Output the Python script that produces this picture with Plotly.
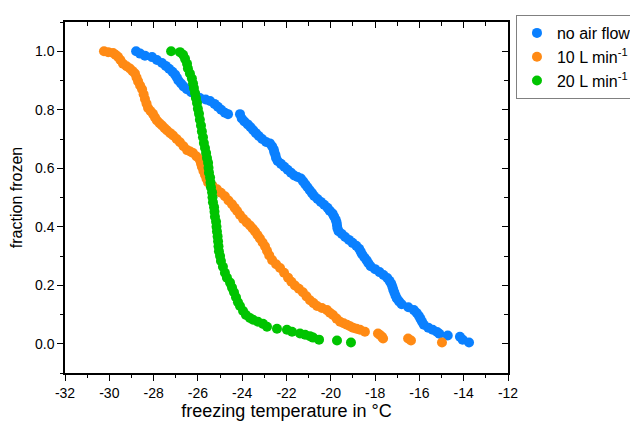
import plotly.graph_objects as go

# ---------------- data ----------------
noair_T = [-28.79, -28.61, -28.39, -28.07, -27.85, -27.62, -27.45, -27.30, -27.15, -27.03,
           -26.95, -26.88, -26.76, -26.65, -26.50, -26.30, -26.10, -25.91, -25.65, -25.45,
           -25.25, -25.10, -24.95, -24.78, -24.64, -24.10, -24.02, -23.90, -23.75, -23.62,
           -23.50, -23.38, -23.25, -23.10, -22.92, -22.75, -22.65, -22.58, -22.55, -22.50,
           -22.47, -22.40, -22.25, -22.10, -21.95, -21.80, -21.65, -21.50, -21.35, -21.25,
           -21.15, -21.05, -20.95, -20.85, -20.75, -20.60, -20.45, -20.30, -20.15, -20.05,
           -19.92, -19.85, -19.78, -19.74, -19.72, -19.70, -19.65, -19.50, -19.35, -19.18,
           -19.02, -18.85, -18.72, -18.65, -18.58, -18.48, -18.38, -18.30, -18.20, -18.00,
           -17.80, -17.62, -17.45, -17.35, -17.27, -17.22, -17.18, -17.13, -17.08, -17.02,
           -16.92, -16.80, -16.50, -16.25, -16.12, -16.02, -15.95, -15.88, -15.80, -15.60,
           -15.40, -15.20, -15.10, -14.72, -14.17, -14.05, -13.76]
noair_F = [1.000, 0.992, 0.985, 0.980, 0.970, 0.960, 0.950, 0.940, 0.930, 0.920,
           0.910, 0.900, 0.890, 0.880, 0.870, 0.860, 0.850, 0.840, 0.835, 0.830,
           0.820, 0.810, 0.800, 0.790, 0.785, 0.785, 0.770, 0.760, 0.750, 0.740,
           0.730, 0.720, 0.710, 0.700, 0.690, 0.685, 0.675, 0.665, 0.655, 0.645,
           0.635, 0.625, 0.615, 0.605, 0.595, 0.585, 0.575, 0.570, 0.565, 0.555,
           0.545, 0.535, 0.525, 0.515, 0.505, 0.495, 0.485, 0.475, 0.465, 0.455,
           0.445, 0.435, 0.425, 0.415, 0.405, 0.395, 0.385, 0.375, 0.365, 0.355,
           0.345, 0.335, 0.325, 0.315, 0.305, 0.295, 0.285, 0.275, 0.265, 0.255,
           0.245, 0.235, 0.225, 0.215, 0.205, 0.195, 0.185, 0.175, 0.165, 0.155,
           0.145, 0.135, 0.125, 0.115, 0.105, 0.095, 0.085, 0.075, 0.065, 0.055,
           0.048, 0.040, 0.034, 0.028, 0.024, 0.014, 0.004]

flow10_T = [-30.24, -30.05, -29.83, -29.72, -29.61, -29.50, -29.38, -29.22, -29.07, -28.95,
            -28.84, -28.77, -28.70, -28.61, -28.52, -28.45, -28.39, -28.32, -28.25, -28.14,
            -28.03, -27.94, -27.85, -27.73, -27.62, -27.50, -27.39, -27.25, -27.12, -26.96,
            -26.81, -26.65, -26.49, -26.35, -26.22, -26.06, -25.91, -25.86, -25.82, -25.75,
            -25.68, -25.61, -25.54, -25.34, -25.14, -24.96, -24.78, -24.62, -24.46, -24.34,
            -24.23, -24.10, -23.96, -23.80, -23.65, -23.53, -23.42, -23.31, -23.20, -23.08,
            -22.97, -22.88, -22.78, -22.65, -22.47, -22.29, -22.11, -21.93, -21.78, -21.62,
            -21.44, -21.26, -21.10, -20.94, -20.78, -20.62, -20.40, -20.17, -20.04, -19.90,
            -19.74, -19.58, -19.42, -19.27, -19.13, -19.00, -18.84, -18.68, -18.46, -17.87,
            -17.78, -17.69, -17.64, -16.51, -16.38, -14.98]
flow10_F = [1.000, 0.997, 0.994, 0.988, 0.981, 0.970, 0.957, 0.949, 0.941, 0.932,
            0.924, 0.910, 0.897, 0.883, 0.870, 0.853, 0.837, 0.821, 0.806, 0.796,
            0.786, 0.774, 0.763, 0.754, 0.746, 0.737, 0.729, 0.720, 0.712, 0.700,
            0.689, 0.675, 0.662, 0.657, 0.652, 0.640, 0.628, 0.616, 0.605, 0.591,
            0.578, 0.564, 0.551, 0.540, 0.528, 0.516, 0.504, 0.490, 0.477, 0.465,
            0.454, 0.440, 0.427, 0.415, 0.404, 0.394, 0.384, 0.372, 0.360, 0.346,
            0.333, 0.318, 0.302, 0.286, 0.272, 0.259, 0.243, 0.226, 0.212, 0.199,
            0.188, 0.176, 0.162, 0.149, 0.139, 0.129, 0.122, 0.115, 0.106, 0.098,
            0.086, 0.075, 0.070, 0.065, 0.060, 0.055, 0.051, 0.048, 0.041, 0.035,
            0.030, 0.024, 0.018, 0.018, 0.011, 0.004]

flow20_T = [-27.21, -26.81, -26.67, -26.58, -26.49, -26.45, -26.36, -26.27, -26.22, -26.18,
            -26.13, -26.09, -26.04, -26.00, -25.95, -25.91, -25.86, -25.82, -25.77, -25.73,
            -25.68, -25.63, -25.59, -25.54, -25.52, -25.50, -25.45, -25.43, -25.41, -25.36,
            -25.34, -25.32, -25.27, -25.25, -25.23, -25.18, -25.16, -25.14, -25.11, -25.09,
            -25.07, -25.05, -25.00, -24.96, -24.87, -24.78, -24.69, -24.55, -24.46, -24.37,
            -24.28, -24.19, -24.10, -23.96, -23.83, -23.65, -23.51, -23.29, -23.06, -22.88,
            -22.43, -21.98, -21.75, -21.39, -21.16, -20.94, -20.80, -20.53, -19.72, -19.09]
flow20_F = [1.000, 0.997, 0.988, 0.974, 0.957, 0.941, 0.924, 0.907, 0.890, 0.874,
            0.857, 0.840, 0.823, 0.803, 0.786, 0.766, 0.746, 0.726, 0.706, 0.686,
            0.669, 0.652, 0.635, 0.619, 0.602, 0.585, 0.568, 0.551, 0.535, 0.518,
            0.501, 0.484, 0.467, 0.451, 0.434, 0.417, 0.400, 0.384, 0.367, 0.350,
            0.333, 0.316, 0.300, 0.283, 0.263, 0.243, 0.226, 0.209, 0.192, 0.176,
            0.159, 0.142, 0.129, 0.112, 0.098, 0.088, 0.082, 0.075, 0.068, 0.058,
            0.051, 0.048, 0.041, 0.035, 0.031, 0.026, 0.021, 0.014, 0.011, 0.004]

series_names = ["no air flow", "10 L min<sup>-1</sup>", "20 L min<sup>-1</sup>"]
series_colors = ["#0a80ff", "#ff8a14", "#00c400"]

x_ticks = [-32, -30, -28, -26, -24, -22, -20, -18, -16, -14, -12]
y_ticks = [0.0, 0.2, 0.4, 0.6, 0.8, 1.0]

FONT = "Liberation Sans, Arial, sans-serif"

fig = go.Figure()
for name, xs, ys, col in zip(series_names,
                             [noair_T, flow10_T, flow20_T],
                             [noair_F, flow10_F, flow20_F],
                             series_colors):
    fig.add_trace(go.Scatter(x=xs, y=ys, mode="markers", name=name,
                             marker=dict(color=col, size=10, line=dict(width=0))))

# empty trace to activate mirrored axes
fig.add_trace(go.Scatter(x=[], y=[], xaxis="x2", yaxis="y2", showlegend=False,
                         hoverinfo="skip"))

axis_common = dict(showline=True, linecolor="black", linewidth=1.5, showgrid=False,
                   zeroline=False, tickcolor="black", tickwidth=1.2, automargin=False)

# the page body adds an 8px offset; margins compensate for it
fig.update_layout(
    width=638, height=428,
    margin=dict(l=57, r=138, t=7, b=63),
    paper_bgcolor="white", plot_bgcolor="white",
    font=dict(family=FONT, color="black", size=14),
    xaxis=dict(range=[-32, -12], tickvals=x_ticks, ticktext=[str(v) for v in x_ticks],
               ticks="outside", ticklen=6,
               minor=dict(ticks="outside", dtick=1, ticklen=3, tickcolor="black", tickwidth=1.2),
               title=dict(text="freezing temperature in °C", font=dict(size=18), standoff=5),
               tickfont=dict(size=14), **axis_common),
    yaxis=dict(range=[-0.1, 1.1], tickvals=y_ticks, ticktext=[f"{v:.1f}" for v in y_ticks],
               ticks="outside", ticklen=6,
               minor=dict(ticks="outside", dtick=0.1, ticklen=3, tickcolor="black", tickwidth=1.2),
               title=dict(text="fraction frozen", font=dict(size=16), standoff=10),
               tickfont=dict(size=14), **axis_common),
    xaxis2=dict(range=[-32, -12], overlaying="x", side="top", tickvals=x_ticks,
                showticklabels=False, ticks="inside", ticklen=6,
                minor=dict(ticks="inside", dtick=1, ticklen=4, tickcolor="black", tickwidth=1.2),
                **axis_common),
    yaxis2=dict(range=[-0.1, 1.1], overlaying="y", side="right", tickvals=y_ticks,
                showticklabels=False, ticks="inside", ticklen=6,
                minor=dict(ticks="inside", dtick=0.1, ticklen=4, tickcolor="black", tickwidth=1.2),
                **axis_common),
    legend=dict(x=1.018, y=1.02, xanchor="left", yanchor="top",
                bordercolor="#808080", borderwidth=1, bgcolor="white",
                font=dict(size=16, family=FONT), tracegroupgap=0),
    showlegend=True,
)

fig.write_html("out.html")
